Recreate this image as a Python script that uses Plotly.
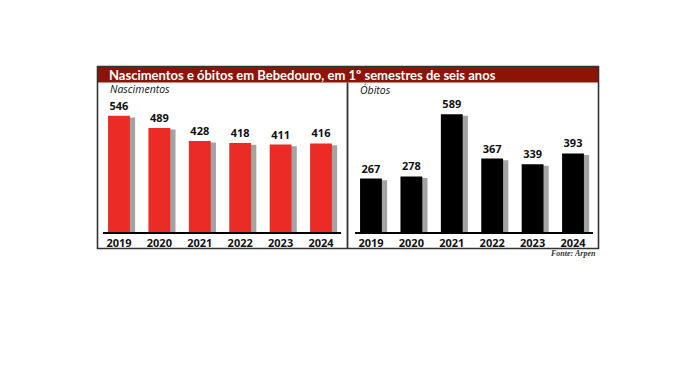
import plotly.graph_objects as go

FW, FH = 680, 371   # figure size; page body adds an 8px margin
OFF = 8

anos = ["2019", "2020", "2021", "2022", "2023", "2024"]
nascimentos = [546, 489, 428, 418, 411, 416]
obitos = [267, 278, 589, 367, 339, 393]

titulo = "Nascimentos e óbitos em Bebedouro, em 1º semestres de seis anos"
sub_esq = "Nascimentos"
sub_dir = "Óbitos"
fonte = "Fonte: Arpen"

RED = "#EA2B26"
BLACK = "#000000"
SHADOW = "#A3A3A3"
TITLE_BG = "#8C1407"
FRAME = "#333333"

def px(x):
    return (x - OFF) / FW

def py(y):
    return 1 - (y - OFF) / FH

fig = go.Figure()

BW = 0.54
SOFF = 0.13

for vals, color, xa, ya in [(nascimentos, RED, "x", "y"), (obitos, BLACK, "x2", "y2")]:
    # shadow
    fig.add_trace(go.Bar(
        x=list(range(len(anos))), y=[v - 8 for v in vals], width=BW, offset=-BW / 2 + SOFF,
        marker=dict(color=SHADOW, line=dict(width=0)), xaxis=xa, yaxis=ya,
        hoverinfo="skip", showlegend=False,
    ))
    fig.add_trace(go.Bar(
        x=list(range(len(anos))), y=vals, width=BW, offset=-BW / 2,
        marker=dict(color=color, line=dict(width=0)), xaxis=xa, yaxis=ya,
        text=[str(v) for v in vals], textposition="outside", cliponaxis=False,
        textfont=dict(family="Open Sans", size=11, color="#111", weight="bold"),
        showlegend=False,
    ))

ydom = [py(232), py(100)]
axis_common = dict(
    tickmode="array", tickvals=list(range(6)), ticktext=anos,
    tickfont=dict(family="Open Sans", size=11, color="#111", weight="bold"),
    showline=True, linecolor="#000", linewidth=2, ticks="", showgrid=False,
    zeroline=False, range=[-0.4, 5.5], fixedrange=True,
)
fig.update_layout(
    width=FW, height=FH,
    margin=dict(l=0, r=0, t=0, b=0),
    paper_bgcolor="white", plot_bgcolor="rgba(0,0,0,0)",
    barmode="overlay",
    xaxis=dict(domain=[px(102.8), px(341.2)], anchor="y", **axis_common),
    xaxis2=dict(domain=[px(354.8), px(593.2)], anchor="y2", **axis_common),
    yaxis=dict(domain=ydom, range=[0, 620], visible=False, fixedrange=True),
    yaxis2=dict(domain=ydom, range=[0, 660], visible=False, fixedrange=True),
    font=dict(family="Open Sans"),
)

shapes = [
    # outer frame
    dict(type="rect", xref="paper", yref="paper", x0=px(97.5), x1=px(598.5), y0=py(248.5), y1=py(66.5),
         line=dict(color=FRAME, width=1.6), fillcolor="rgba(0,0,0,0)", layer="above"),
    # title band
    dict(type="rect", xref="paper", yref="paper", x0=px(98), x1=px(598), y0=py(82.5), y1=py(67),
         line=dict(width=0), fillcolor=TITLE_BG, layer="below"),
    # divider
    dict(type="line", xref="paper", yref="paper", x0=px(347.5), x1=px(347.5), y0=py(248.5), y1=py(82.5),
         line=dict(color=FRAME, width=1.8)),
]
fig.update_layout(shapes=shapes)

annotations = [
    dict(text=f"<b>{titulo}</b>", x=px(107), y=py(75), xref="paper", yref="paper",
         xanchor="left", yanchor="middle", showarrow=False,
         font=dict(family="Lato", size=13, color="white")),
    dict(text=f"<i>{sub_esq}</i>", x=px(108), y=py(88.5), xref="paper", yref="paper",
         xanchor="left", yanchor="middle", showarrow=False,
         font=dict(family="Open Sans", size=10.5, color="#111")),
    dict(text=f"<i>{sub_dir}</i>", x=px(358), y=py(90), xref="paper", yref="paper",
         xanchor="left", yanchor="middle", showarrow=False,
         font=dict(family="Open Sans", size=10.5, color="#111")),
    dict(text=f"<b><i>{fonte}</i></b>", x=px(598), y=py(253), xref="paper", yref="paper",
         xanchor="right", yanchor="middle", showarrow=False,
         font=dict(family="Liberation Serif", size=8, color="#333")),
]
fig.update_layout(annotations=annotations)

fig.write_html("out.html")
